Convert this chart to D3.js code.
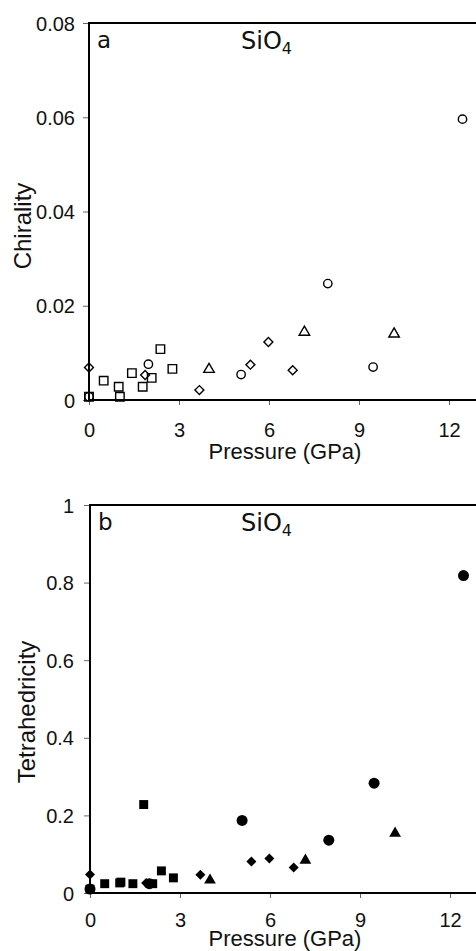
<!DOCTYPE html>
<html><head><meta charset="utf-8">
<script src="https://cdn.jsdelivr.net/npm/d3@7"></script>
<style>
html,body{margin:0;padding:0;background:#fff;}
svg{display:block;}
</style></head>
<body>
<script>
// ---- data ----
const circleP   = [0, 1.98, 5.07, 7.96, 9.47, 12.45];
const circleChi = [0.0007, 0.0076, 0.0054, 0.0247, 0.0070, 0.0596];
const circleTet = [0.010, 0.024, 0.187, 0.136, 0.283, 0.818];

const squareP   = [0, 0.49, 0.99, 1.03, 1.43, 1.79, 2.09, 2.38, 2.78];
const squareChi = [0.0007, 0.0041, 0.0028, 0.0007, 0.0057, 0.0028, 0.0047, 0.0108, 0.0066];
const squareTet = [0.010, 0.024, 0.026, 0.028, 0.024, 0.228, 0.024, 0.057, 0.039];

const diamondP   = [0, 1.87, 3.68, 5.38, 5.98, 6.79];
const diamondChi = [0.0069, 0.0053, 0.0021, 0.0075, 0.0123, 0.0063];
const diamondTet = [0.048, 0.026, 0.047, 0.081, 0.089, 0.066];

const triangleP   = [4.0, 7.18, 10.17];
const triangleChi = [0.0065, 0.0144, 0.0140];
const triangleTet = [0.033, 0.084, 0.154];

const xTicks = [0, 3, 6, 9, 12];
const chiTicks = [0, 0.02, 0.04, 0.06, 0.08];
const chiTickLabels = ["0", "0.02", "0.04", "0.06", "0.08"];
const tetTicks = [0, 0.2, 0.4, 0.6, 0.8, 1];
const tetTickLabels = ["0", "0.2", "0.4", "0.6", "0.8", "1"];

const W = 476, H = 951;
const svg = d3.select("body").append("svg").attr("width", W).attr("height", H);

function panel(cfg) {
  const x = d3.scaleLinear().domain([0, 13]).range([cfg.left, cfg.left + 390]);
  const y = d3.scaleLinear().domain(cfg.yDomain).range([cfg.bottom, cfg.top]);
  const g = svg.append("g");

  // y axis ticks
  const ya = d3.axisLeft(y).tickValues(cfg.yTicks).tickFormat((d, i) => cfg.yLabels[i])
    .tickSize(6).tickSizeOuter(0).tickPadding(cfg.yPad);
  const yg = g.append("g").attr("transform", `translate(${cfg.left},0)`).call(ya);
  yg.select(".domain").remove();
  yg.selectAll(".tick line").attr("stroke", "#666").attr("stroke-width", 1);
  yg.selectAll(".tick text").attr("font-family", "Liberation Sans, Arial, sans-serif")
    .attr("font-size", 20).attr("fill", "#111").attr("dy", "0.35em");

  // x axis ticks
  const xa = d3.axisBottom(x).tickValues(xTicks).tickSize(5).tickSizeOuter(0).tickPadding(cfg.xPad);
  const xg = g.append("g").attr("transform", `translate(0,${cfg.bottom})`).call(xa);
  xg.select(".domain").remove();
  xg.selectAll(".tick line").attr("stroke", "#666").attr("stroke-width", 1);
  xg.selectAll(".tick text").attr("font-family", "Liberation Sans, Arial, sans-serif")
    .attr("font-size", 20).attr("fill", "#111").attr("dy", "0.71em");

  // frame lines
  g.append("line").attr("x1", cfg.left).attr("x2", W).attr("y1", cfg.top).attr("y2", cfg.top)
    .attr("stroke", "#000").attr("stroke-width", 2);
  g.append("line").attr("x1", cfg.left).attr("x2", W).attr("y1", cfg.bottom).attr("y2", cfg.bottom)
    .attr("stroke", "#000").attr("stroke-width", 2);
  g.append("line").attr("x1", cfg.left).attr("x2", cfg.left).attr("y1", cfg.top - 1).attr("y2", cfg.bottom + 1)
    .attr("stroke", "#000").attr("stroke-width", 2);

  // labels
  g.append("text").attr("x", cfg.left + 8).attr("y", cfg.top + 25)
    .attr("font-family", "DejaVu Sans, Verdana, sans-serif").attr("font-size", 23).attr("fill", "#111")
    .text(cfg.letter);
  const t = g.append("text").attr("x", 241).attr("y", cfg.top + 26)
    .attr("font-family", "DejaVu Sans, Verdana, sans-serif").attr("font-size", 24).attr("fill", "#111");
  t.append("tspan").text("SiO");
  t.append("tspan").attr("font-size", 16).attr("dy", 5).text("4");

  g.append("text").attr("transform", `translate(${cfg.yTitleX},${cfg.yTitleY}) rotate(-90)`)
    .attr("text-anchor", "middle").attr("font-family", "Liberation Sans, Arial, sans-serif")
    .attr("font-size", 24).attr("fill", "#111").text(cfg.yTitle);
  g.append("text").attr("x", 285).attr("y", cfg.xTitleY)
    .attr("text-anchor", "middle").attr("font-family", "Liberation Sans, Arial, sans-serif")
    .attr("font-size", 22).attr("fill", "#111").text("Pressure (GPa)");

  const fill = cfg.filled ? "#000" : "none";
  const sw = cfg.filled ? 0 : 1.4;
  function draw(P, V, type, size, rot) {
    const sym = d3.symbol().type(type).size(size);
    g.append("g").selectAll("path").data(P.map((p, i) => [p, V[i]])).join("path")
      .attr("d", sym)
      .attr("transform", d => `translate(${x(d[0])},${y(d[1])}) rotate(${rot})`)
      .attr("fill", fill).attr("stroke", "#000").attr("stroke-width", sw);
  }
  draw(circleP, cfg.ci, d3.symbolCircle, cfg.filled ? 95 : 55, 0);
  draw(squareP, cfg.sq, d3.symbolSquare, cfg.filled ? 80 : 72, 0);
  draw(diamondP, cfg.di, d3.symbolSquare, cfg.filled ? 50 : 40, 45);
  draw(triangleP, cfg.tr, d3.symbolTriangle, cfg.filled ? 60 : 48, 0);
}

panel({
  left: 89, top: 23, bottom: 400, yDomain: [0, 0.08], yTicks: chiTicks, yLabels: chiTickLabels, yPad: 8, xPad: 18,
  letter: "a", yTitle: "Chirality", yTitleX: 31, yTitleY: 226, xTitleY: 459, filled: false,
  ci: circleChi, sq: squareChi, di: diamondChi, tr: triangleChi
});
panel({
  left: 90, top: 505, bottom: 893, yDomain: [0, 1], yTicks: tetTicks, yLabels: tetTickLabels, yPad: 10, xPad: 15,
  letter: "b", yTitle: "Tetrahedricity", yTitleX: 35, yTitleY: 712, xTitleY: 946, filled: true,
  ci: circleTet, sq: squareTet, di: diamondTet, tr: triangleTet
});
</script>
</body></html>
